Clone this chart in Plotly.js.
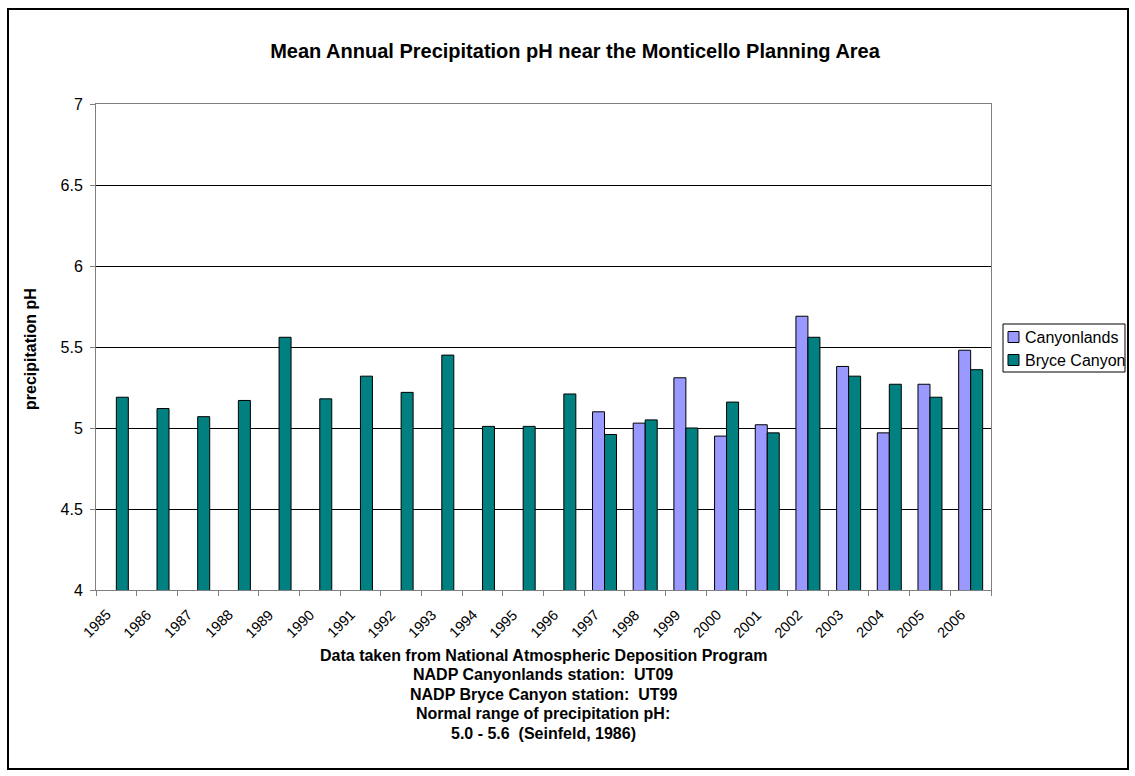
<!DOCTYPE html>
<html>
<head>
<meta charset="utf-8">
<script src="https://cdn.plot.ly/plotly-3.0.1.min.js"></script>
<style>
  html, body { margin: 0; padding: 0; background: #fff; }
  #wrap { position: relative; width: 1135px; height: 776px; }
  #chart { position: absolute; left: 0; top: 0; width: 1135px; height: 776px; }
  #frame { position: absolute; left: 7px; top: 8px; width: 1118px; height: 758px;
           border: 2px solid #000; pointer-events: none; }
</style>
</head>
<body>
<div id="wrap">
  <div id="chart"></div>
  <div id="frame"></div>
</div>
<script>
// Years on the category axis
const years = ['1985','1986','1987','1988','1989','1990','1991','1992','1993','1994','1995',
               '1996','1997','1998','1999','2000','2001','2002','2003','2004','2005','2006'];

// Mean annual precipitation pH, Canyonlands (UT09) — no record before 1997
const canyonlands = [null,null,null,null,null,null,null,null,null,null,null,
                     null,5.10,5.03,5.31,4.95,5.02,5.69,5.38,4.97,5.27,5.48];

// Mean annual precipitation pH, Bryce Canyon (UT99)
const bryceCanyon = [5.19,5.12,5.07,5.17,5.56,5.18,5.32,5.22,5.45,5.01,5.01,
                     5.21,4.96,5.05,5.00,5.16,4.97,5.56,5.32,5.27,5.19,5.36];

const yTicks = [4, 4.5, 5, 5.5, 6, 6.5, 7];
const yTickText = ['4', '4.5', '5', '5.5', '6', '6.5', '7'];

const seriesNames = ['Canyonlands', 'Bryce Canyon'];
const seriesColors = ['#9999FF', '#008080'];

const notes = [
  'Data taken from National Atmospheric Deposition Program',
  'NADP Canyonlands station:  UT09',
  'NADP Bryce Canyon station:  UT99',
  'Normal range of precipitation pH:',
  '5.0 - 5.6  (Seinfeld, 1986)'
];

const font = 'Arial, "Liberation Sans", sans-serif';

const traces = [
  {
    type: 'bar', name: seriesNames[0], x: years, y: canyonlands,
    marker: { color: seriesColors[0], line: { color: '#000', width: 1 } }
  },
  {
    type: 'bar', name: seriesNames[1], x: years, y: bryceCanyon,
    marker: { color: seriesColors[1], line: { color: '#000', width: 1 } }
  }
];

// Plot area in pixels
const W = 1135, H = 776;
const plotTop = 104, plotBottom = 590, plotLeft = 96, plotRight = 991;
const pw = plotRight - plotLeft, ph = plotBottom - plotTop;
const px = v => (v - plotLeft) / pw;      // pixel x -> paper x
const py = v => (plotBottom - v) / ph;    // pixel y -> paper y

// Footnote block under the axis
const noteTop = 655, noteStep = 19.5;
const annotations = notes.map((t, i) => ({
  text: '<b>' + t + '</b>',
  xref: 'paper', yref: 'paper',
  x: px(543), y: py(noteTop + i * noteStep),
  xanchor: 'center', yanchor: 'middle',
  showarrow: false,
  font: { family: font, size: 16, color: '#000' }
}));

// Slanted year labels, ending just left of each category centre
// (category axis positions are the category indices)
years.forEach((yr, i) => {
  annotations.push({
    text: yr, xref: 'x', yref: 'paper',
    x: i, y: py(604), xanchor: 'right', yanchor: 'top',
    xshift: 0, textangle: -45, showarrow: false,
    font: { family: font, size: 14.5, color: '#000' }
  });
});

// Legend box drawn beside the plot
const legLeft = 1003, legRight = 1125, legTop = 324, legBottom = 372;
const legRows = [337, 360];
const shapes = [{
  type: 'rect', xref: 'paper', yref: 'paper',
  x0: px(legLeft), x1: px(legRight), y0: py(legBottom), y1: py(legTop),
  line: { color: '#000', width: 1 }, fillcolor: '#fff', layer: 'above'
}];
seriesNames.forEach((name, i) => {
  shapes.push({
    type: 'rect', xref: 'paper', yref: 'paper',
    x0: px(1008), x1: px(1019), y0: py(legRows[i] + 5.5), y1: py(legRows[i] - 5.5),
    line: { color: '#000', width: 1 }, fillcolor: seriesColors[i], layer: 'above'
  });
  annotations.push({
    text: name, xref: 'paper', yref: 'paper',
    x: px(1023), y: py(legRows[i]), xanchor: 'left', yanchor: 'middle',
    showarrow: false, font: { family: font, size: 16, color: '#000' }
  });
});

// Y axis title
annotations.push({
  text: '<b>precipitation pH</b>', xref: 'paper', yref: 'paper',
  x: px(30), y: py(349), xanchor: 'center', yanchor: 'middle',
  textangle: -90, showarrow: false,
  font: { family: font, size: 16, color: '#000' }
});

const layout = {
  width: W, height: H,
  margin: { l: plotLeft, r: W - plotRight, t: plotTop, b: H - plotBottom, pad: 0 },
  paper_bgcolor: '#fff', plot_bgcolor: '#fff',
  font: { family: font, size: 16, color: '#000' },
  title: {
    text: '<b>Mean Annual Precipitation pH near the Monticello Planning Area</b>',
    font: { family: font, size: 20, color: '#000' },
    xref: 'container', yref: 'container',
    x: 575 / W, y: 1 - 51 / H, xanchor: 'center', yanchor: 'middle'
  },
  barmode: 'group',
  bargap: 0.41,
  bargroupgap: 0,
  showlegend: false,
  xaxis: {
    type: 'category',
    categoryorder: 'array', categoryarray: years,
    range: [-0.5, years.length - 0.5],
    ticks: 'outside', ticklen: 5, tickcolor: '#808080',
    tickson: 'boundaries',
    showticklabels: false,
    showline: true, linecolor: '#808080', linewidth: 1, mirror: true,
    showgrid: false
  },
  yaxis: {
    range: [4, 7],
    tickvals: yTicks, ticktext: yTickText,
    ticks: 'outside', ticklen: 5, tickcolor: '#808080',
    ticklabelstandoff: 4,
    showline: true, linecolor: '#808080', linewidth: 1, mirror: true,
    showgrid: true, gridcolor: '#000', gridwidth: 1,
    zeroline: false,
    tickfont: { family: font, size: 16, color: '#000' }
  },
  shapes: shapes,
  annotations: annotations
};

Plotly.newPlot('chart', traces, layout, { displayModeBar: false, staticPlot: true });
</script>
</body>
</html>
